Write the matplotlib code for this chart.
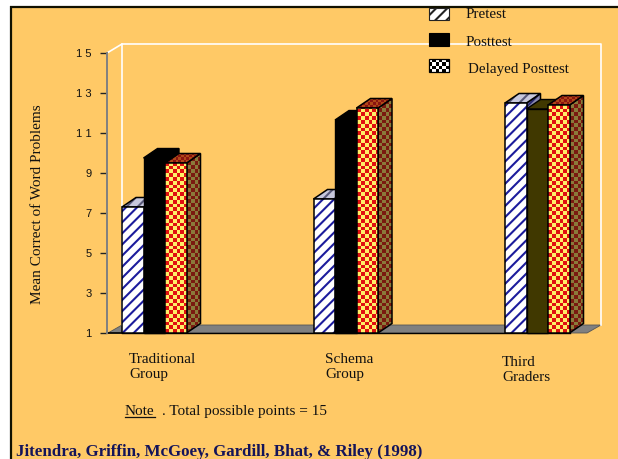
import numpy as np
import matplotlib
matplotlib.use("Agg")
import matplotlib.pyplot as plt
from matplotlib.patches import Polygon, Rectangle

# ---- data ----
groups = ["Traditional\nGroup", "Schema\nGroup", "Third\nGraders"]
series = ["Pretest", "Posttest", "Delayed Posttest"]
pretest = [7.3, 7.7, 12.5]
posttest = [9.75, 11.65, 12.2]
delayed = [9.5, 12.25, 12.4]
y_ticks = [1, 3, 5, 7, 9, 11, 13, 15]
y_tick_labels = ["1", "3", "5", "7", "9", "1 1", "1 3", "1 5"]

W, H = 618, 459
BG = "#FFC966"
SERIF = "Liberation Serif"
SANS = "Liberation Sans"
plt.rcParams["hatch.linewidth"] = 1.5

fig = plt.figure(figsize=(W / 100, H / 100), dpi=100, facecolor="white")

# pixel-space layer for the slide frame and the texts
bg = fig.add_axes([0, 0, 1, 1], zorder=0)
bg.set_xlim(0, W)
bg.set_ylim(H, 0)
bg.axis("off")
bg.add_patch(Rectangle((12, 8), W - 12, H - 8, fc=BG, ec="none", zorder=1))
bg.plot([11, 11], [6, H], color="#111100", lw=1.6, zorder=2, solid_capstyle="butt")
bg.plot([10, W], [7, 7], color="#111100", lw=1.6, zorder=2, solid_capstyle="butt")

# 3D wall and floor
bg.add_patch(Polygon([(108, 333), (122, 325), (601, 325), (587, 333)],
                     fc="#808080", ec="#555555", lw=0.6, zorder=2))
bg.plot([107, 122, 601, 601], [53, 44, 44, 325], color="white", lw=1.2, zorder=2)
bg.plot([122, 122], [44, 325], color="white", lw=1.2, zorder=2)

# main data axes: y 1..15 spans pixels 333..53, one group = 191.5 px
GROUP_PX = 191.5
BAR = 21.5 / GROUP_PX
DX = 14 / GROUP_PX
DY = 9.5 / 20
ax = fig.add_axes([107 / W, 1 - 333 / H, (601 - 107) / W, 280 / H], zorder=1)
ax.patch.set_alpha(0)
for s in ("top", "right", "bottom"):
    ax.spines[s].set_visible(False)
ax.spines["left"].set_color("#808080")
ax.spines["left"].set_linewidth(1.4)
ax.set_ylim(1, 15)
ax.set_xlim(-15 / GROUP_PX, (601 - 122) / GROUP_PX)
ax.set_xticks([])
ax.set_yticks(y_ticks, y_tick_labels, fontfamily=SANS, fontsize=8, color="#111111")
ax.tick_params(axis="y", length=5, width=1, color="#222222", pad=6)
ax.plot([-15 / GROUP_PX, -1 / GROUP_PX], [1, 1], color="black", lw=1.2, clip_on=False)
ax.plot([0, 2 + 3 * BAR], [1, 1], color="black", lw=1.0, clip_on=False)

zc = [5]


def z():
    zc[0] += 1
    return zc[0]


def checker(axis, pts, c1, c2, cell_x, cell_y):
    """Fill polygon pts with a checkerboard clipped to it."""
    pts = np.array(pts)
    x0, y0 = pts.min(axis=0)
    x1, y1 = pts.max(axis=0)
    nx = int(np.ceil((x1 - x0) / cell_x)) + 1
    ny = int(np.ceil((y1 - y0) / cell_y)) + 1
    yy, xx = np.indices((ny, nx))
    mask = (xx + yy) % 2
    rgb = np.where(mask[..., None] == 1,
                   np.array(matplotlib.colors.to_rgb(c1)),
                   np.array(matplotlib.colors.to_rgb(c2)))
    im = axis.imshow(rgb, extent=(x0, x0 + nx * cell_x, y0, y0 + ny * cell_y),
                     origin="lower", aspect="auto", interpolation="nearest", zorder=z())
    clip = Polygon(pts, transform=axis.transData, fc="none", ec="none")
    axis.add_patch(clip)
    im.set_clip_path(clip)


def outline(pts, lw=1.1):
    ax.add_patch(Polygon(pts, fc="none", ec="black", lw=lw, zorder=z(), clip_on=False))


def hatched(pts, face, col):
    ax.add_patch(Polygon(pts, fc=face, ec=col, hatch="///", lw=0, zorder=z(), clip_on=False))


def faces(x, val):
    front = [(x, 1), (x + BAR, 1), (x + BAR, val), (x, val)]
    top = [(x, val), (x + BAR, val), (x + BAR + DX, val + DY), (x + DX, val + DY)]
    side = [(x + BAR, 1), (x + BAR + DX, 1 + DY), (x + BAR + DX, val + DY), (x + BAR, val)]
    return front, top, side


for g in range(len(groups)):
    # pretest
    fr, tp, sd = faces(g, pretest[g])
    hatched(sd, "#8a8ab0", "#2a2a70")
    outline(sd)
    hatched(tp, "#c8c8dc", "#5a5a7a")
    outline(tp)
    hatched(fr, "white", "#1c1c9c")
    outline(fr)
    # posttest
    x = g + BAR
    fr, tp, sd = faces(x, posttest[g])
    col = "#000000" if g < 2 else "#403800"
    for p in (sd, tp, fr):
        ax.add_patch(Polygon(p, fc=col, ec="black", lw=1.0, zorder=z(), clip_on=False))
    # delayed posttest
    x = g + 2 * BAR
    fr, tp, sd = faces(x, delayed[g])
    cx, cy = 3.8 / GROUP_PX, 3.8 / 20
    checker(ax, sd, "#8a7a3a", "#7a1a10", cx, cy)
    outline(sd)
    checker(ax, tp, "#8a1410", "#b04818", cx * 0.7, cy * 0.7)
    outline(tp)
    checker(ax, fr, "#ffee66", "#e01010", cx, cy)
    outline(fr)
ax.set_xlim(-15 / GROUP_PX, (601 - 122) / GROUP_PX)
ax.set_ylim(1, 15)

# legend, in pixel space
fg = fig.add_axes([0, 0, 1, 1], zorder=2)
fg.set_xlim(0, W)
fg.set_ylim(H, 0)
fg.axis("off")
fg.add_patch(Rectangle((429, 8), 20, 12, fc="white", ec="#222222", hatch="///", lw=0.8))
fg.add_patch(Rectangle((429, 33), 20, 13, fc="black", ec="black", lw=0.8))
yy, xx = np.indices((4, 6))
fg.imshow(((xx + yy) % 2)[..., None].repeat(3, axis=2).astype(float),
          extent=(429, 449, 59, 72), aspect="auto", interpolation="nearest", origin="upper")
fg.add_patch(Rectangle((429, 59), 20, 13, fc="none", ec="black", lw=0.9))
fg.set_xlim(0, W)
fg.set_ylim(H, 0)

txt = dict(family=SERIF, fontsize=10.8, color="#111111")
fg.text(466, 18, series[0], va="baseline", **txt)
fg.text(466, 46, series[1], va="baseline", **txt)
fg.text(468, 73, series[2], va="baseline", **txt)

txt2 = dict(txt, fontsize=11)
label_baselines = [(129, 363), (325, 363), (502, 366)]
for lab, (px, py) in zip(groups, label_baselines):
    for k, line in enumerate(lab.split("\n")):
        fg.text(px, py + 15 * k, line, va="baseline", **txt2)

fg.text(38, 204, "Mean Correct of Word Problems", rotation=90, ha="center", va="center", **txt2)

fg.text(125, 415, "Note", va="baseline", **txt2)
fg.plot([125, 155], [417, 417], color="#111111", lw=0.9)
fg.text(162, 415, ". Total possible points = 15", va="baseline", **txt2)
fg.text(16, 456, "Jitendra, Griffin, McGoey, Gardill, Bhat, & Riley (1998)", va="baseline",
        family=SERIF, fontsize=12.2, fontweight="bold", color="#14145a")

fig.savefig("out.png", dpi=100, facecolor="white")
